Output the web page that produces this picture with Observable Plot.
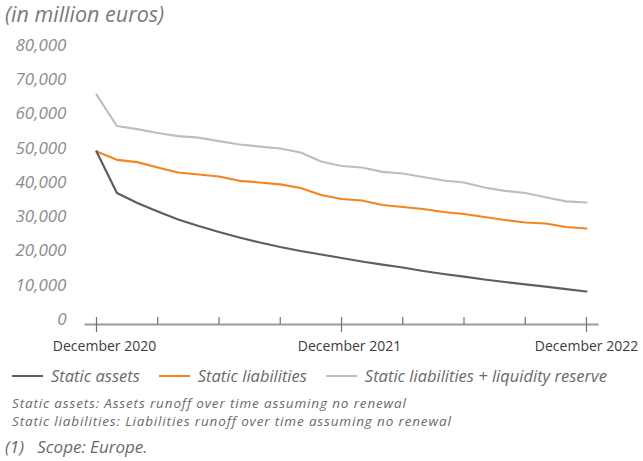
<!DOCTYPE html>
<html>
<head>
<meta charset="utf-8">
<script src="https://cdn.jsdelivr.net/npm/d3@7"></script>
<script src="https://cdn.jsdelivr.net/npm/@observablehq/plot@0.6"></script>
<style>
  html, body { margin: 0; padding: 0; background: #fff; width: 643px; height: 461px; overflow: hidden; }
  body { position: relative; font-family: "Open Sans", sans-serif; }
  #title { position: absolute; left: 5px; top: 0px; font-size: 21.5px; line-height: 28px; font-style: italic; color: #7a7a7a; white-space: nowrap; }
  #chart { position: absolute; left: 0; top: 30px; }
  #legend { position: absolute; left: 12px; top: 366px; height: 20px; display: flex; align-items: center; font-size: 16.5px; line-height: 20px; font-style: italic; color: #6a6a6a; white-space: nowrap; }
  #legend .item { display: flex; align-items: center; margin-right: 19px; }
  #legend .sw { display: inline-block; width: 31px; height: 0; border-top: 2px solid; margin-right: 8px; }
  #notes { position: absolute; left: 12px; top: 394px; font-size: 13.5px; letter-spacing: 0.85px; font-style: italic; color: #6a6a6a; line-height: 18px; white-space: nowrap; }
  #scope { position: absolute; left: 5px; top: 436px; font-size: 17px; line-height: 22px; font-style: italic; color: #6a6a6a; white-space: pre; }
</style>
</head>
<body>
<div id="title">(in million euros)</div>
<div id="chart"></div>
<div id="legend"></div>
<div id="notes"></div>
<div id="scope"></div>
<script>
// Month offsets from December 2020
const months = [0,1,2,3,4,5,6,7,8,9,10,11,12,13,14,15,16,17,18,19,20,21,22,23,24];
const staticAssets = [49050,36930,34010,31530,29200,27300,25550,23940,22480,21170,20000,18980,17960,16930,16000,15180,14160,13280,12500,11680,10950,10280,9580,8850,8180];
const staticLiabilities = [49050,46630,45960,44380,42920,42340,41750,40500,40000,39470,38390,36350,35180,34740,33430,32850,32260,31390,30800,29930,29050,28320,28030,27000,26570];
const liabPlusReserve = [65700,56500,55600,54450,53550,53080,52080,51100,50500,49930,48760,46130,44820,44380,43120,42630,41600,40580,40000,38540,37580,36930,35680,34510,34160];
const seriesNames = ["Static assets", "Static liabilities", "Static liabilities + liquidity reserve"];
const seriesColors = ["#5e5e5e", "#f5841f", "#bdbdc2"];
const yTicks = [0,10000,20000,30000,40000,50000,60000,70000,80000];
const quarterTicks = [0,3,6,9,12,15,18,21,24];
const majorTicks = [0,12,24];
const majorLabels = ["December 2020","December 2021","December 2022"];
const notes = ["Static assets: Assets runoff over time assuming no renewal","Static liabilities: Liabilities runoff over time assuming no renewal"];
const scopeNote = "(1)   Scope: Europe.";

const seriesValues = [staticAssets, staticLiabilities, liabPlusReserve];
const rows = [];
seriesValues.forEach((vals, s) => months.forEach((m, i) => rows.push({m, v: vals[i], s: seriesNames[s]})));
const labelOf = m => majorLabels[majorTicks.indexOf(m)];

const drawOrder = [2, 1, 0];
const plot = Plot.plot({
  width: 643, height: 330,
  marginTop: 15, marginBottom: 36, marginLeft: 85, marginRight: 46,
  insetLeft: 11, insetRight: 11, insetBottom: 5,
  x: {domain: [0, 24]},
  y: {domain: [0, 80000]},
  color: {domain: seriesNames, range: seriesColors},
  style: {fontFamily: "Open Sans, sans-serif", background: "transparent"},
  marks: [
    Plot.frame({anchor: "bottom", stroke: "#9b9b9b", strokeWidth: 2, strokeOpacity: 1}),
    Plot.axisY({ticks: yTicks, tickSize: 0, tickPadding: 19, tickFormat: d3.format(","), fontSize: 17, fontStyle: "italic", fill: "#8c8c8c", label: null}),
    Plot.axisX({ticks: quarterTicks, tickSize: -7, tickFormat: () => "", stroke: "#707070", strokeWidth: 1.2, label: null}),
    Plot.axisX({ticks: majorTicks, tickSize: 8, tickFormat: () => "", stroke: "#707070", strokeWidth: 1.2, label: null}),
    Plot.axisX({ticks: majorTicks.slice(0, 2), tickSize: 0, tickPadding: 17, tickFormat: labelOf, fontSize: 14, fontWeight: 500, fill: "#3c3c3c", dx: 8, label: null}),
    Plot.axisX({ticks: majorTicks.slice(2), tickSize: 0, tickPadding: 17, tickFormat: labelOf, fontSize: 14, fontWeight: 500, fill: "#3c3c3c", dx: 0, label: null}),
    ...drawOrder.map(s => Plot.line(rows.filter(r => r.s === seriesNames[s]), {x: "m", y: "v", stroke: "s", strokeWidth: 2.2}))
  ]
});
plot.style.overflow = "visible";
document.getElementById("chart").appendChild(plot);

const legend = document.getElementById("legend");
seriesNames.forEach((n, i) => {
  const it = document.createElement("span");
  it.className = "item";
  const sw = document.createElement("span");
  sw.className = "sw";
  sw.style.borderTopColor = seriesColors[i];
  it.appendChild(sw);
  it.appendChild(document.createTextNode(n));
  legend.appendChild(it);
});
document.getElementById("notes").innerHTML = notes.map(t => `<div>${t}</div>`).join("");
document.getElementById("scope").textContent = scopeNote;
</script>
</body>
</html>
